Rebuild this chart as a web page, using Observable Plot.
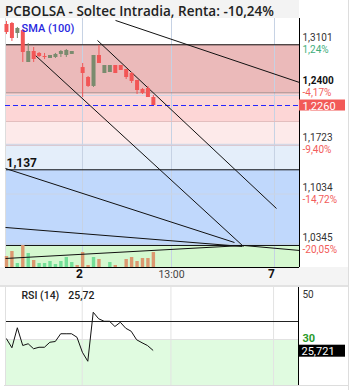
<!DOCTYPE html>
<html>
<head>
<meta charset="utf-8">
<script src="https://cdn.jsdelivr.net/npm/d3@7"></script>
<script src="https://cdn.jsdelivr.net/npm/@observablehq/plot@0.6"></script>
<style>
html,body{margin:0;padding:0;background:#fff;}
#wrap{position:relative;width:353px;height:390px;overflow:hidden;background:#fff;font-family:Roboto,"Noto Sans",sans-serif;}
#wrap > *{position:absolute;}
</style>
</head>
<body>
<div id="wrap"></div>
<script>
// ---------- data ----------
const candleIndex = [0,1,2,3,4,5,6,7,8,9,10,11,12,13,14,15,16,17,18,19,20,21,22,23,24,25,26,27];
const openPrice  = [1.3382,1.3396,1.3257,1.3299,1.2856,1.3008,1.2981,1.2939,1.2911,1.2925,1.2967,1.2953,1.2967,1.2994,1.2786,1.2648,1.2524,1.2953,1.2703,1.2717,1.2814,1.2814,1.2759,1.2703,1.2607,1.2482,1.2496,1.2371];
const highPrice  = [1.3424,1.3410,1.3341,1.3313,1.3119,1.3063,1.2994,1.2981,1.2953,1.2981,1.3022,1.3036,1.3008,1.2994,1.2842,1.2662,1.2953,1.3091,1.2814,1.2814,1.2814,1.2814,1.2759,1.2717,1.2607,1.2496,1.2524,1.2399];
const lowPrice   = [1.3243,1.3147,1.3188,1.2856,1.2856,1.2856,1.2925,1.2897,1.2911,1.2911,1.2925,1.2925,1.2967,1.2994,1.2371,1.2510,1.2510,1.2842,1.2703,1.2717,1.2703,1.2745,1.2620,1.2565,1.2413,1.2413,1.2371,1.2260];
const closePrice = [1.3271,1.3188,1.3327,1.2994,1.3008,1.2897,1.2939,1.2925,1.2953,1.2967,1.3008,1.3022,1.3008,1.2994,1.2703,1.2524,1.2953,1.2842,1.2814,1.2814,1.2703,1.2745,1.2648,1.2593,1.2468,1.2427,1.2371,1.2260];
const volumeValue = [11,16,4,22,14,7,4,4,6,3,6,10,5,2,15,2,10,8,0,5,2,0,8,10,6,9,9,15];
const volumeDir   = ["d","d","u","d","u","d","u","u","u","u","u","u","u","d","d","d","u","d","u","u","d","d","d","d","d","d","d","d"];
const rsiValue = [30.3,26.7,34.7,27.6,28.3,26.3,26.9,26.9,28.9,29.2,32.3,32.3,32.3,30.9,24.9,21.3,40.9,38.3,37.3,37.3,35.2,36.9,34.5,33.3,29.9,28.7,27.6,25.72];
const rsiRefLevel = 37.2;

const priceTicks  = [1.3101, 1.2400, 1.1723, 1.1034, 1.0345];
const priceLabels = ["1,3101","1,2400","1,1723","1,1034","1,0345"];
const pctLabels   = ["1,24%","-4,17%","-9,40%","-14,72%","-20,05%"];
const currentPrice = 1.2260, currentLabel = "1,2260";
const levelValue = 1.137, levelLabel = "1,137";

const bandTop    = [1.3101, 1.2436, 1.2039, 1.1707, 1.1370, 1.0322];
const bandBottom = [1.2436, 1.2039, 1.1707, 1.1370, 1.0322, 1.0017];
const bandFill   = ["#ebbaba","#fdd6d6","#fdeaea","#e4eefa","#c0d8fc","#d5f8d0"];
const bandLine   = ["#111111","#a08585","#e3bdbd","#d9c7d0","#111111","#111111"];

const trendX1 = [20.04, 16.73, 5.33, -0.18, -0.18, -0.18, 43.57];
const trendY1 = [1.3438, 1.3161, 1.2953, 1.1388, 1.0571, 1.0142, 1.0322];
const trendX2 = [53.86, 49.63, 43.57, 41.91, 43.38, 43.57, 53.86];
const trendY2 = [1.2579, 1.0834, 1.0308, 1.0363, 1.0308, 1.0322, 1.0253];

const timeTicks  = [13.97, 30.33, 49.26];
const timeLabels = ["2", "13:00", "7"];
const timeBold   = [true, false, true];

const rsiTicks = [50, 30];
const rsiTickLabels = ["50", "30"];
const rsiCurrentLabel = "25,721";

// ---------- derived tables ----------
const xDomain = [-0.18, 53.86];
const yDomain = [1.0017, 1.3465];
const RED = "#f25656", GREEN = "#7a8b6e";
const candles = candleIndex.map((i, k) => ({i, open: openPrice[k], high: highPrice[k], low: lowPrice[k], close: closePrice[k],
  color: closePrice[k] >= openPrice[k] && k !== 13 ? GREEN : RED}));
const vols = candleIndex.map((i, k) => ({i, v: volumeValue[k], color: volumeDir[k] === "u" ? "#74df98" : "#dc9870"}));
const rsi = candleIndex.map((i, k) => ({i, v: rsiValue[k]}));
const bands = bandTop.map((t, k) => ({y1: t, y2: bandBottom[k], fill: bandFill[k]}));
const bandLines = bandTop.map((t, k) => ({y: t, stroke: bandLine[k]}));
const trends = trendX1.map((x1, k) => ({x1, y1: trendY1[k], x2: trendX2[k], y2: trendY2[k]}));
const ticks = priceTicks.map((p, k) => ({p, label: priceLabels[k], pct: pctLabels[k], pctColor: pctLabels[k].startsWith("-") ? "#f25c5a" : "#3fae7c"}));
const times = timeTicks.map((x, k) => ({x, t: timeLabels[k], bold: timeBold[k]}));

const wrap = document.getElementById("wrap");
function put(el, top, left) { el.style.top = top + "px"; el.style.left = left + "px"; wrap.appendChild(el); return el; }
function box(top, left, w, h, bg) { const d = document.createElement("div"); d.style.width = w + "px"; d.style.height = h + "px"; d.style.background = bg; return put(d, top, left); }
function label(text, top, left, css) { const d = document.createElement("div"); d.textContent = text; d.style.cssText += css; d.style.whiteSpace = "nowrap"; return put(d, top, left); }

const FONT = "Roboto, sans-serif";
const common = {width: 353, height: 267, marginTop: 0, marginBottom: 18, marginLeft: 5, marginRight: 54,
  x: {domain: xDomain, axis: null}, color: {type: "identity"},
  style: {background: "transparent", fontFamily: FONT, overflow: "visible"}};

// backgrounds
box(0, 0, 299, 18, "#f3f3f3");
box(267, 0, 349, 18, "#f4f4f4");

// layer 1: bands
const bandsPlot = Plot.plot({...common, y: {domain: yDomain, axis: null}, marks: [
  Plot.rect(bands, {y1: "y1", y2: "y2", fill: "fill"}),
  Plot.ruleX(timeTicks, {stroke: "#c6d2e4", strokeWidth: 1}),
  Plot.ruleY(priceTicks.slice(1), {stroke: "#cad5e6", strokeWidth: 1}),
  Plot.ruleY(bandLines, {y: "y", stroke: "stroke", strokeWidth: 1}),
  Plot.ruleX([xDomain[0]], {stroke: "#dddddd"})
]});
put(bandsPlot, 18, 0);

// layer 2: volume
const volPlot = Plot.plot({...common, y: {domain: [0, 249], axis: null}, marks: [
  Plot.ruleX(vols, {x: "i", y1: 0, y2: "v", stroke: "color", strokeWidth: 3.4})
]});
put(volPlot, 18, 0);

// layer 3: price marks
const mainPlot = Plot.plot({...common, y: {domain: yDomain, axis: null}, marks: [
  Plot.ruleY([currentPrice], {stroke: "#2626ff", strokeWidth: 1.2, strokeDasharray: "5,3"}),
  Plot.link(trends, {x1: "x1", y1: "y1", x2: "x2", y2: "y2", stroke: "#111", strokeWidth: 1}),
  Plot.ruleX(candles, {x: "i", y1: "low", y2: "high", stroke: "color", strokeWidth: 1}),
  Plot.ruleX(candles, {x: "i", y1: "open", y2: "close", stroke: "color", strokeWidth: 4}),
  Plot.ruleX([xDomain[1]], {stroke: "#000", strokeWidth: 1}),
  Plot.ruleY([yDomain[0]], {stroke: "#000", strokeWidth: 1}),
  // right axis labels
  Plot.text(ticks.filter(d => d.p !== 1.24), {y: "p", text: "label", frameAnchor: "right", textAnchor: "start", dx: 3, dy: -6.5, fill: "#333", fontSize: 10, fontFamily: FONT}),
  Plot.text(ticks.filter(d => d.p !== 1.24), {y: "p", text: "pct", frameAnchor: "right", textAnchor: "start", dx: 3, dy: 5.5, fill: "pctColor", fontSize: 10, fontFamily: FONT}),
  Plot.text(ticks.filter(d => d.p === 1.24), {y: "p", text: "label", frameAnchor: "right", textAnchor: "start", dx: 3, dy: -14.5, fill: "#111", fontSize: 10, fontWeight: "bold", fontFamily: FONT}),
  Plot.text(ticks.filter(d => d.p === 1.24), {y: "p", text: "pct", frameAnchor: "right", textAnchor: "start", dx: 3, dy: -2.5, fill: "pctColor", fontSize: 10, fontFamily: FONT}),
  // current price box
  Plot.rect([currentPrice], {x1: () => xDomain[1], x2: () => xDomain[1], y1: d => d, y2: d => d,
    insetTop: -5.5, insetBottom: -5.5, insetRight: -46, fill: "#f25a58"}),
  Plot.text([currentPrice], {y: d => d, text: () => currentLabel, frameAnchor: "right", textAnchor: "start", dx: 3, dy: 0.5, fill: "#fff", fontSize: 11, fontFamily: FONT}),
  // left level label
  Plot.text([levelValue], {y: d => d, text: () => levelLabel, frameAnchor: "left", textAnchor: "start", dx: 1, dy: -7, fill: "#111", fontSize: 12, fontWeight: "bold", fontFamily: FONT}),
  // time axis labels
  Plot.text(times.filter(d => d.bold), {x: "x", text: "t", frameAnchor: "bottom", dx: -3, dy: 10, fill: "#111", fontSize: 12, fontWeight: "bold", fontFamily: FONT}),
  Plot.text(times.filter(d => !d.bold), {x: "x", text: "t", frameAnchor: "bottom", dy: 10, fill: "#444", fontSize: 10.5, fontFamily: FONT})
]});
put(mainPlot, 18, 0);

// RSI panel
const rsiPlot = Plot.plot({width: 353, height: 98, marginTop: 0, marginBottom: 0, marginLeft: 5, marginRight: 55,
  x: {domain: xDomain, axis: null}, y: {domain: [11.6, 50.8], axis: null},
  style: {background: "transparent", fontFamily: FONT, overflow: "hidden"}, marks: [
  Plot.rect([30], {y1: 11.6, y2: d => d, fill: "#e0fbe0"}),
  Plot.ruleX(timeTicks, {stroke: "#e3e3e3"}),
  Plot.ruleY([30], {stroke: "#e2e2e2"}),
  Plot.ruleY([rsiRefLevel], {stroke: "#222", strokeWidth: 1}),
  Plot.line(rsi, {x: "i", y: "v", stroke: "#111", strokeWidth: 1}),
  Plot.ruleX([xDomain[0]], {stroke: "#e0e0e0"}),
  Plot.ruleX([xDomain[1]], {stroke: "#000"}),
  Plot.text([rsiTicks[0]], {y: d => d, text: () => rsiTickLabels[0], frameAnchor: "right", textAnchor: "start", dx: 4, dy: 5, fill: "#333", fontSize: 10, fontFamily: FONT}),
  Plot.text([rsiTicks[1]], {y: d => d, text: () => rsiTickLabels[1], frameAnchor: "right", textAnchor: "start", dx: 4, dy: -1.5, fill: "#2a9a2a", fontSize: 11, fontWeight: "bold", fontFamily: FONT}),
  Plot.rect([rsiValue[rsiValue.length - 1]], {x1: () => xDomain[1], x2: () => xDomain[1], y1: d => d, y2: d => d,
    insetTop: -5, insetBottom: -7, insetRight: -47, fill: "#000"}),
  Plot.text([rsiValue[rsiValue.length - 1]], {y: d => d, text: () => rsiCurrentLabel, frameAnchor: "right", textAnchor: "start", dx: 3, dy: 1, fill: "#fff", fontSize: 11, fontFamily: FONT})
]});
put(rsiPlot, 287, 0);

// separators and borders
box(285, 0, 349, 2, "#e2e2e2");
box(385, 4, 345, 1, "#dddddd");
box(0, 348, 1, 390, "#dddddd");

// html labels
label("PCBOLSA - Soltec Intradia, Renta: -10,24%", 2, 5, "font-family:'Open Sans',sans-serif;font-size:13.5px;font-weight:600;line-height:18px;color:#222;");
label("SMA (100)", 22, 21.5, "font-family:Roboto,sans-serif;font-size:11px;font-weight:500;line-height:13px;color:#2828e0;");
label("RSI (14)", 290, 21.5, "font-family:Roboto,sans-serif;font-size:10.5px;font-weight:500;line-height:12px;color:#222;");
label("25,72", 290, 68.3, "font-family:Roboto,sans-serif;font-size:10.5px;font-weight:500;line-height:12px;color:#222;");
</script>
</body>
</html>
